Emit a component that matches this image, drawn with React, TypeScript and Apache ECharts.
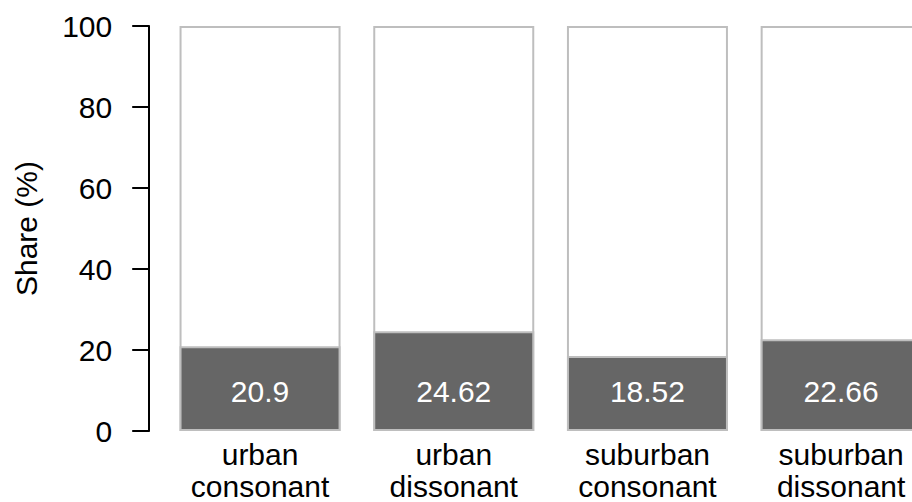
import React, { useEffect, useRef } from "react";
import * as echarts from "echarts";

const categories = ["urban\nconsonant", "urban\ndissonant", "suburban\nconsonant", "suburban\ndissonant"];
const shares = [20.9, 24.62, 18.52, 22.66];
const totals = [100, 100, 100, 100];
const yTicks = { min: 0, max: 100, interval: 20 };

const FONT = "Liberation Sans, Arial, sans-serif";

export default function App() {
  const ref = useRef<HTMLDivElement>(null);
  useEffect(() => {
    if (!ref.current) return;
    const chart = echarts.init(ref.current, null, { renderer: "svg" });
    chart.setOption({
      animation: false,
      backgroundColor: "#ffffff",
      grid: {
        left: 163.2,
        width: 774.8,
        top: 26,
        height: 405,
        containLabel: false,
        outerBoundsMode: "none",
      },
      xAxis: {
        type: "category",
        data: categories,
        axisLine: { show: false },
        axisTick: { show: false },
        axisLabel: {
          color: "#000",
          fontFamily: FONT,
          fontSize: 30,
          lineHeight: 32,
          margin: 7,
          interval: 0,
        },
      },
      yAxis: {
        type: "value",
        min: yTicks.min,
        max: yTicks.max,
        interval: yTicks.interval,
        offset: 14,
        name: "Share (%)",
        nameLocation: "middle",
        nameGap: 108,
        nameTextStyle: { color: "#000", fontFamily: FONT, fontSize: 30 },
        axisLine: { show: true, lineStyle: { color: "#000", width: 2 } },
        axisTick: { show: true, length: 17, lineStyle: { color: "#000", width: 2 } },
        axisLabel: { color: "#000", fontFamily: FONT, fontSize: 30, margin: 37 },
        splitLine: { show: false },
      },
      series: [
        {
          type: "bar",
          data: totals,
          barWidth: 161,
          barGap: "-100%",
          itemStyle: { color: "#ffffff", borderColor: "#BEBEBE", borderWidth: 2 },
          silent: true,
          z: 1,
        },
        {
          type: "bar",
          data: shares,
          barWidth: 161,
          barGap: "-100%",
          itemStyle: { color: "#666666", borderColor: "#BEBEBE", borderWidth: 2 },
          label: {
            show: true,
            position: "insideBottom",
            distance: 40,
            verticalAlign: "middle",
            color: "#ffffff",
            fontFamily: FONT,
            fontSize: 30,
          },
          z: 2,
        },
      ],
    });
    return () => chart.dispose();
  }, []);
  return <div ref={ref} style={{ width: 912, height: 502, position: "absolute", left: 0, top: 0 }} />;
}
